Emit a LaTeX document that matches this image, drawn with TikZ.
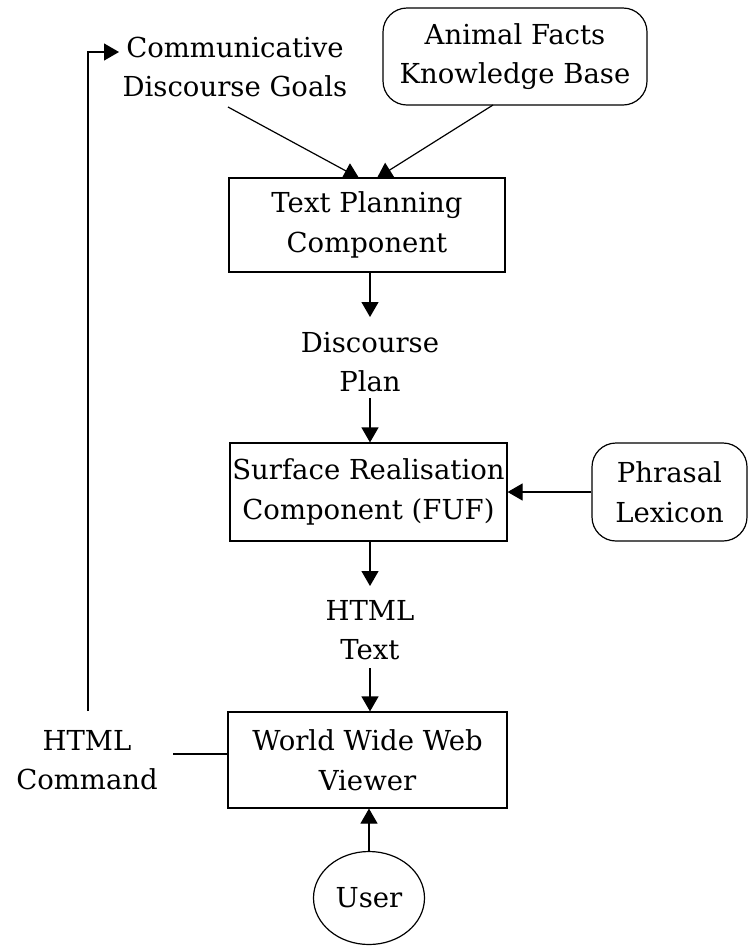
\documentclass[tikz,border=0pt]{standalone}
\usepackage{fontspec}
\setmainfont{DejaVu Serif}
\usetikzlibrary{arrows.meta,shapes.geometric}
\begin{document}
\begin{tikzpicture}[x=1pt,y=-1pt,
  font=\fontsize{27.5}{39.5}\selectfont,
  every node/.style={inner sep=0pt, align=center},
  box/.style={draw, line width=1.2pt, minimum width=#1, minimum height=96pt},
  rbox/.style={draw, line width=1.2pt, rounded corners=24pt, minimum width=#1, minimum height=97pt},
  label/.style={},
  link/.style={line width=1.2pt},
  flow/.style={link, -{Triangle[length=15pt,width=17pt]}}
]
\useasboundingbox (0,0) rectangle (749,946);

% boxes and labels
\node[label] (goals) at (235,67) {Communicative\\Discourse Goals};
\node[rbox=264pt] (kb) at (515,56.5) {Animal Facts\\Knowledge Base};
\node[box=276pt, minimum height=94pt] (tp) at (367,225) {Text Planning\\Component};
\node[label] (plan) at (370,362) {Discourse\\Plan};
\node[box=277pt, minimum height=98pt] (sr) at (368.5,492) {Surface Realisation\\Component (FUF)};
\node[rbox=155pt, minimum height=98pt] (lex) at (669.5,492) {Phrasal\\Lexicon};
\node[label] (html) at (370,630) {HTML\\Text};
\node[box=279pt] (www) at (367.5,760) {World Wide Web\\Viewer};
\node[label] (cmd) at (87,760) {HTML\\Command};
\node[draw, ellipse, line width=1.2pt, minimum width=111pt, minimum height=93pt] (user) at (369,898) {User};

% connector end points
\coordinate (goalsOut) at (228,107);
\coordinate (kbOut) at (493,105);
\coordinate (tpInL) at (359,178);
\coordinate (tpInR) at (377,178);
\coordinate (planTop) at (370,317);
\coordinate (planBot) at (370,398);
\coordinate (htmlTop) at (370,586);
\coordinate (htmlBot) at (370,668);
\coordinate (cmdTop) at (88,711);
\coordinate (corner) at (88,52);
\coordinate (goalsIn) at (119,52);
\coordinate (cmdR) at (173,754);

% connectors
\draw[flow] (goalsOut) -- (tpInL);
\draw[flow] (kbOut) -- (tpInR);
\draw[flow] (tp.south -| planTop) -- (planTop);
\draw[flow] (planBot) -- (planBot |- sr.north);
\draw[flow] (lex.west) -- (sr.east);
\draw[flow] (sr.south -| htmlTop) -- (htmlTop);
\draw[flow] (htmlBot) -- (htmlBot |- www.north);
\draw[flow] (user.north) -- (user.north |- www.south);
\draw[link] (cmdR) -- (cmdR -| www.west);
\draw[flow] (cmdTop) -- (corner) -- (goalsIn);
\end{tikzpicture}
\end{document}
